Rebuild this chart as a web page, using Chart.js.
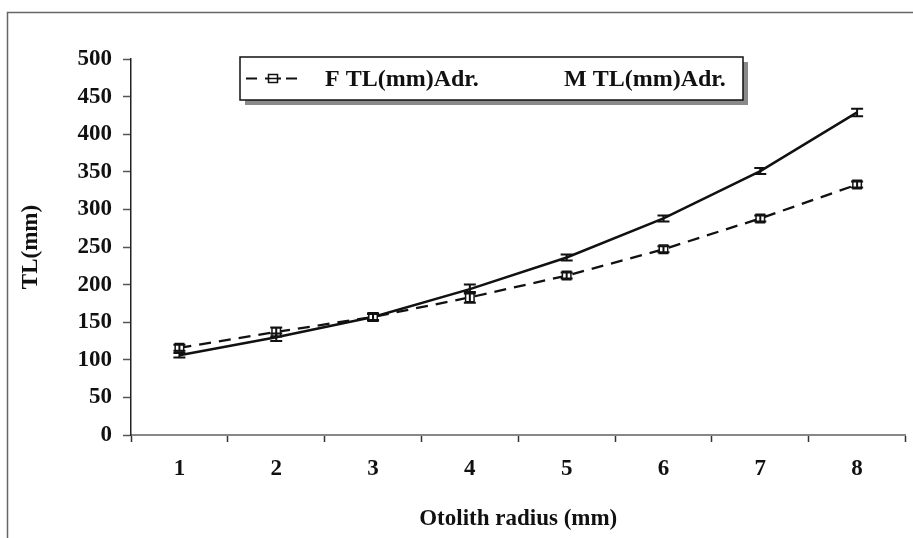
<!DOCTYPE html>
<html>
<head>
<meta charset="utf-8">
<script src="https://cdn.jsdelivr.net/npm/chart.js@4"></script>
<style>
  html, body { margin: 0; padding: 0; background: #fff; }
  canvas { display: block; }
</style>
</head>
<body>
<canvas id="myChart" width="913" height="538"></canvas>
<script>
// otolith radius classes
const radius = ['1', '2', '3', '4', '5', '6', '7', '8'];
// mean total length (mm)
const femaleTL = [116, 137, 157, 183, 212, 247, 288, 333];
const maleTL = [106, 130, 157, 194, 236, 288, 351, 429];
// error bar half-heights
const femaleErr = [4, 6, 5, 7, 4, 4, 4, 4];
const maleErr = [3, 5, 4, 6, 4, 4, 4, 5];
const yMin = 0, yMax = 500, yStep = 50;

const FONT = { family: 'Liberation Serif', weight: 'bold', size: 23 };

// outer frame of the figure (cut at right / bottom)
const framePlugin = {
  id: 'frame',
  beforeDraw(chart) {
    const c = chart.ctx;
    c.save();
    c.strokeStyle = '#666';
    c.lineWidth = 1.5;
    c.beginPath();
    c.moveTo(7.5, chart.height);
    c.lineTo(7.5, 12.5);
    c.lineTo(chart.width, 12.5);
    c.stroke();
    c.restore();
  }
};

// vertical error bars with caps, placed through the y scale
const errorPlugin = {
  id: 'errorBars',
  afterDatasetsDraw(chart) {
    const c = chart.ctx, y = chart.scales.y;
    const errs = [femaleErr, maleErr];
    c.save();
    c.strokeStyle = '#111';
    c.lineWidth = 2;
    chart.data.datasets.forEach((ds, i) => {
      chart.getDatasetMeta(i).data.forEach((pt, j) => {
        const top = y.getPixelForValue(ds.data[j] + errs[i][j]);
        const bot = y.getPixelForValue(ds.data[j] - errs[i][j]);
        c.beginPath();
        c.moveTo(pt.x, top); c.lineTo(pt.x, bot);
        c.moveTo(pt.x - 6, top); c.lineTo(pt.x + 6, top);
        c.moveTo(pt.x - 6, bot); c.lineTo(pt.x + 6, bot);
        c.stroke();
      });
    });
    c.restore();
  }
};

// boxed legend with drop shadow, as in the original
const legendPlugin = {
  id: 'boxLegend',
  afterDraw(chart) {
    const c = chart.ctx;
    const bx = 240, by = 57, bw = 503, bh = 43;
    c.save();
    c.fillStyle = '#8a8a8a';
    c.fillRect(bx + 5, by + 5, bw, bh);
    c.fillStyle = '#fff';
    c.fillRect(bx, by, bw, bh);
    c.strokeStyle = '#111';
    c.lineWidth = 1.5;
    c.strokeRect(bx, by, bw, bh);

    const cy = by + bh / 2;
    // sample: dash, square marker, dash
    c.lineWidth = 2;
    c.beginPath();
    c.moveTo(246, cy); c.lineTo(257, cy);
    c.moveTo(265, cy); c.lineTo(281, cy);
    c.moveTo(286, cy); c.lineTo(297, cy);
    c.stroke();
    c.lineWidth = 1.5;
    c.fillStyle = '#fff';
    c.fillRect(268.5, cy - 4, 9, 8);
    c.strokeRect(268.5, cy - 4, 9, 8);
    c.beginPath();
    c.moveTo(268.5, cy); c.lineTo(277.5, cy);
    c.stroke();

    c.fillStyle = '#111';
    c.font = 'bold 24px "Liberation Serif"';
    c.textBaseline = 'middle';
    c.fillText(chart.data.datasets[0].label, 325, cy + 1);
    c.fillText(chart.data.datasets[1].label, 564, cy + 1);
    c.restore();
  }
};

new Chart(document.getElementById('myChart').getContext('2d'), {
  type: 'line',
  data: {
    labels: radius,
    datasets: [{
      label: 'F TL(mm)Adr.',
      data: femaleTL,
      borderColor: '#111',
      borderWidth: 2.3,
      borderDash: [12, 8],
      pointStyle: 'rect',
      pointRadius: 6,
      pointBackgroundColor: '#fff',
      pointBorderColor: '#111',
      pointBorderWidth: 1.5,
      tension: 0
    }, {
      label: 'M TL(mm)Adr.',
      data: maleTL,
      borderColor: '#111',
      borderWidth: 2.5,
      pointRadius: 0,
      tension: 0
    }]
  },
  options: {
    responsive: false,
    animation: false,
    devicePixelRatio: 1,
    layout: { padding: { top: 59, right: 0, left: 8, bottom: 0 } },
    plugins: { legend: { display: false }, tooltip: { enabled: false } },
    scales: {
      x: {
        offset: true,
        afterFit(scale) { scale.height = 103; },
        grid: { offset: true, drawOnChartArea: false, tickLength: 7, tickColor: '#333', tickWidth: 1.5 },
        border: { color: '#888', width: 2 },
        ticks: { color: '#111', font: FONT, padding: 13, maxRotation: 0 },
        title: { display: true, text: 'Otolith radius (mm)', color: '#111', font: FONT, padding: { top: 0, bottom: 5 } }
      },
      y: {
        min: yMin,
        max: yMax,
        afterFit(scale) { scale.width = 123; },
        grid: { drawOnChartArea: false, tickLength: 8, tickColor: '#555', tickWidth: 1.5 },
        border: { color: '#222', width: 1.5 },
        ticks: { stepSize: yStep, color: '#111', font: FONT, padding: 11 },
        title: { display: true, text: 'TL(mm)', color: '#111', font: FONT, padding: { top: 9, bottom: 0 } }
      }
    }
  },
  plugins: [framePlugin, errorPlugin, legendPlugin]
});
</script>
</body>
</html>
